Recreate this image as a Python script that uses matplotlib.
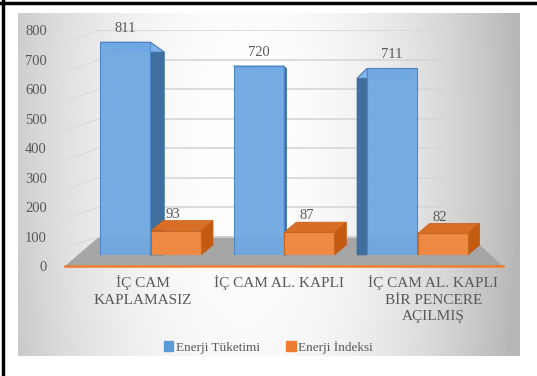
import numpy as np
import matplotlib
matplotlib.use("Agg")
import matplotlib.pyplot as plt
from matplotlib.patches import Polygon
from matplotlib.transforms import IdentityTransform

categories = ["İÇ CAM\nKAPLAMASIZ", "İÇ CAM AL. KAPLI", "İÇ CAM AL. KAPLI\nBİR PENCERE\nAÇILMIŞ"]
tuketim = [811, 720, 711]
indeks = [93, 87, 82]
series_names = ["Enerji Tüketimi", "Enerji İndeksi"]
yticks = [0, 100, 200, 300, 400, 500, 600, 700, 800]

W, H = 537, 376
plt.rcParams['font.family'] = ['Liberation Serif', 'DejaVu Serif']
txt = "#595959"

fig = plt.figure(figsize=(W / 100, H / 100), dpi=100)
fig.patch.set_facecolor("white")


def box(x0, y0, x1, y1):
    # pixel box (top-left origin) -> figure fraction
    return [x0 / W, 1 - y1 / H, (x1 - x0) / W, (y1 - y0) / H]


# gradient background panel
bg = fig.add_axes(box(18, 13, 520, 356))
gx, gy = np.meshgrid(np.linspace(0, 1, 300), np.linspace(0, 1, 200))
g = 1 - 0.28 * (((gx - 0.45) / 0.55) ** 2) - 0.06 * (gy - 0.4) ** 2
g = np.clip(g, 0.72, 1)
bg.imshow(np.dstack([g, g, g]), aspect="auto", extent=(0, 1, 0, 1))
bg.set_axis_off()
bg.set_zorder(0)

# back wall axes: ticks, grid and floor
back = fig.add_axes(box(65, 30, 452, 266))
back.set_zorder(1)
back.set_ylim(0, 800)
back.set_xlim(0, 1)
back.set_yticks(yticks)
back.tick_params(axis="y", length=0, labelsize=10.5, labelcolor=txt, pad=13)
back.set_xticks([])
back.patch.set_alpha(0)
for s in back.spines.values():
    s.set_visible(False)
for v in yticks[1:]:
    back.axhline(v, xmin=0.09, color="#d6d6d6", lw=1.2)
    back.plot([0, 0.09], [v - 40, v], color="#dcdcdc", lw=1.0)
fig.canvas.draw()
floor = Polygon([(65, H - 266), (503, H - 266), (470, H - 236), (100, H - 236)],
                closed=True, transform=IdentityTransform(), facecolor="#a6a6a6",
                edgecolor="none", zorder=1, clip_on=False)
back.add_artist(floor)
back.add_artist(plt.Line2D([65, 503], [H - 266] * 2, transform=IdentityTransform(),
                           color="#ed7d31", lw=1.8, zorder=2, clip_on=False))

# bars axes
ax = fig.add_axes(box(84, 30, 484, 255))
ax.set_zorder(2)
ax.set_xlim(-0.5, 2.5)
ax.set_ylim(0, 857)
ax.set_axis_off()
ax.patch.set_alpha(0)

x = np.arange(len(categories))
bw = 0.375
blue = ax.bar(x - 0.19, tuketim, bw, color="#6fa8e2", edgecolor="#4a86c5", lw=0.8, alpha=0.95, zorder=3)
orng = ax.bar(x + 0.19, indeks, bw, color="#ef8a45", edgecolor="#c8651f", lw=0.8, zorder=3)

fig.canvas.draw()


def faces(rect, dx, dy, side_c, top_c):
    (x0, y0) = ax.transData.transform((rect.get_x(), 0))
    (x1, y1) = ax.transData.transform((rect.get_x() + rect.get_width(), rect.get_height()))
    xs = x1 if dx > 0 else x0
    yb = y0 + max(dy, 0)
    side = Polygon([(xs, y1), (xs + dx, y1 + dy), (xs + dx, yb), (xs, y0)],
                   transform=IdentityTransform(), facecolor=side_c, edgecolor=side_c, lw=0.5,
                   zorder=2, clip_on=False)
    top = Polygon([(x0, y1), (x1, y1), (x1 + dx, y1 + dy), (x0 + dx, y1 + dy)],
                  transform=IdentityTransform(), facecolor=top_c, edgecolor=side_c, lw=0.5,
                  zorder=2, clip_on=False)
    ax.add_artist(side)
    ax.add_artist(top)


blue_depth = [(14, -10), (3, -3), (-10, -10)]
for r, (dx, dy) in zip(blue, blue_depth):
    faces(r, dx, dy, "#3f6f9e", "#7db3ea")
for r in orng:
    faces(r, 12, 10, "#c55a11", "#d96f26")

for r, v in zip(blue, tuketim):
    ax.annotate(str(v), (r.get_x() + r.get_width() / 2, v), xytext=(0, 5),
                textcoords="offset points", ha="center", va="bottom", fontsize=10.5, color=txt)
for r, v in zip(orng, indeks):
    ax.annotate(str(v), (r.get_x() + r.get_width() / 2, v), xytext=(-2, 7),
                textcoords="offset points", ha="center", va="bottom", fontsize=10.5, color=txt)

# category labels
lab_x = [-0.06, 0.96, 2.12]
for lx, c in zip(lab_x, categories):
    ax.text(lx, -0.09, c, transform=ax.get_xaxis_transform(), ha="center", va="top",
            fontsize=11, color=txt, linespacing=1.35)

# legend
h1 = plt.Rectangle((0, 0), 1, 1, color="#5b9bd5")
h2 = plt.Rectangle((0, 0), 1, 1, color="#ed7d31")
leg = fig.legend([h1, h2], series_names, loc="center", bbox_to_anchor=(0.5, 1 - 347 / H), ncol=2,
                 frameon=False, fontsize=9.5, handlelength=0.7, handleheight=0.7, handletextpad=0.2,
                 columnspacing=2.0, labelcolor=txt)
leg.set_zorder(5)

# outer border
fig.add_artist(plt.Line2D([3 / W, 3 / W], [0, 1], color="black", lw=2.5, zorder=6))
fig.add_artist(plt.Line2D([0, 1], [1 - 3 / H] * 2, color="black", lw=2.5, zorder=6))

fig.savefig("out.png", dpi=100)
